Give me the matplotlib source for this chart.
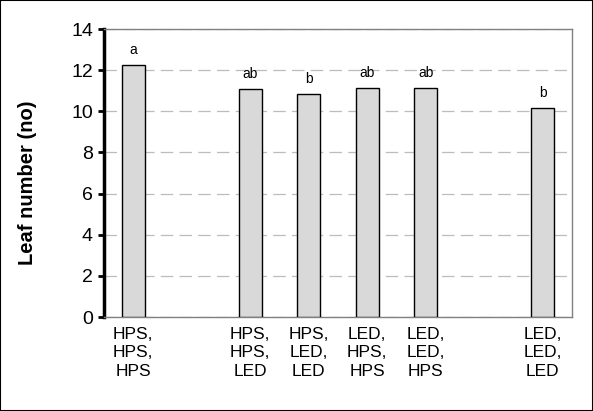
import matplotlib.pyplot as plt
from matplotlib.patches import Rectangle

plt.rcParams['font.family'] = ['Liberation Sans', 'DejaVu Sans']

# treatments (three growth phases), positions keep the gaps of the original
labels = ['HPS,\nHPS,\nHPS', 'HPS,\nHPS,\nLED', 'HPS,\nLED,\nLED',
          'LED,\nHPS,\nHPS', 'LED,\nLED,\nHPS', 'LED,\nLED,\nLED']
positions = [0, 2, 3, 4, 5, 7]
leaf_no = [12.25, 11.07, 10.84, 11.13, 11.13, 10.15]
letters = ['a', 'ab', 'b', 'ab', 'ab', 'b']

fig = plt.figure(figsize=(5.93, 4.11), dpi=100)
ax = fig.add_axes([0.1754, 0.2287, 0.7892, 0.7007])

ax.bar(positions, leaf_no, width=0.4, color='#d9d9d9', edgecolor='black',
       linewidth=1, zorder=3)
for x, y, s in zip(positions, leaf_no, letters):
    ax.text(x, y + 0.4, s, ha='center', va='bottom', fontsize=10)

ax.set_xlim(-0.5, 7.5)
ax.set_ylim(0, 14)
ax.set_yticks(range(0, 15, 2))
ax.set_xticks(positions)
ax.set_xticklabels(labels, fontsize=12.5, linespacing=1.3)
ax.tick_params(axis='x', length=0, pad=7)
ax.tick_params(axis='y', labelsize=14, length=4, width=2, direction='out', pad=4)
ax.yaxis.grid(True, color='#bcbcbc', linestyle=(0, (10, 5)), linewidth=0.9, zorder=0)

for side in ['top', 'right', 'bottom']:
    ax.spines[side].set_color('#808080')
    ax.spines[side].set_linewidth(1)
ax.spines['left'].set_color('black')
ax.spines['left'].set_linewidth(2.5)

fig.text(28 / 593, 1 - 183 / 411, 'Leaf number (no)', rotation=90,
         ha='center', va='center', fontsize=14.5, fontweight='bold')

fig.patches.append(Rectangle((0, 0), 1, 1, transform=fig.transFigure,
                             fill=False, edgecolor='black', linewidth=1.5))

fig.savefig('out.png', dpi=100)
